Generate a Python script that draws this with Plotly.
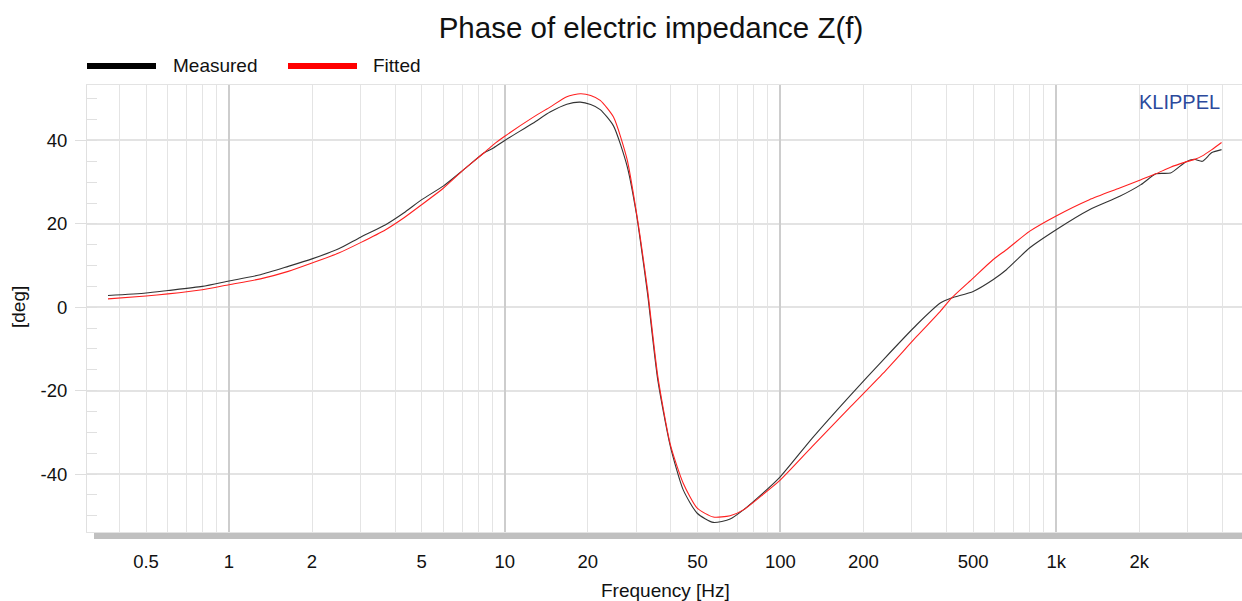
import plotly.graph_objects as go

freq = [0.364, 0.5, 0.6, 0.8, 1.0, 1.3, 1.64, 2.0, 2.5, 3.0, 3.7, 4.3, 5.0, 6.0, 7.1, 8.4, 9.1,
        10, 12.7, 14.6, 16.8, 18.8, 20.5, 22.2, 24.8, 27.8, 30.0, 31.0, 33.0, 35.9, 39.9, 44.4,
        49.9, 57.1, 65.7, 73.4, 85, 100, 130, 180, 236, 312, 380, 417, 500, 590, 660, 800,
        1000, 1320, 1700, 2030, 2300, 2600, 2940, 3160, 3390, 3670, 3980]

measured = [2.8, 3.4, 4.0, 5.0, 6.3, 7.8, 9.8, 11.6, 14.0, 16.8, 19.8, 22.6, 25.8, 29.1, 33.0, 37.0, 38.2,
            40.0, 44.2, 46.8, 48.7, 49.2, 48.6, 47.4, 43.5, 33.8, 22.6, 16.2, 3.0, -17.4, -33.4, -43.8,
            -49.4, -51.6, -50.8, -48.6, -45.0, -40.6, -31.5, -21.0, -12.6, -4.2, 1.0, 2.2, 3.8, 6.6, 9.0, 14.2,
            18.6, 23.4, 26.6, 29.4, 32.0, 32.2, 34.8, 35.5, 35.0, 37.1, 37.8]

fitted = [2.0, 2.7, 3.2, 4.2, 5.4, 6.8, 8.6, 10.6, 13.0, 15.5, 18.6, 21.4, 24.6, 28.6, 33.0, 37.0, 39.0,
          41.0, 45.6, 48.0, 50.5, 51.2, 50.8, 49.6, 45.6, 35.4, 23.0, 16.8, 4.0, -16.5, -33.0, -42.2,
          -48.2, -50.3, -50.0, -48.6, -45.3, -41.4, -33.5, -23.8, -15.8, -7.0, -1.0, 2.2, 7.0, 11.4, 13.8, 18.2,
          21.9, 25.8, 28.6, 30.6, 32.0, 33.6, 34.8, 35.4, 36.3, 37.8, 39.5]

x_tick_vals = [0.5, 1, 2, 5, 10, 20, 50, 100, 200, 500, 1000, 2000]
x_tick_text = ["0.5", "1", "2", "5", "10", "20", "50", "100", "200", "500", "1k", "2k"]
decades = [1, 10, 100, 1000]
minor_grid = [m * d for d in [0.1, 1, 10, 100, 1000] for m in range(1, 10)]
y_tick_vals = [-40, -20, 0, 20, 40]
y_tick_text = ["-40", "-20", "0", "20", "40"]

FONT = "Liberation Sans, Arial, sans-serif"
W, H = 1242, 601
L, R, T, B = 87, 0, 85, 69
pw, ph = W - L - R, H - T - B

def px(xp):
    return (xp - L) / pw

def py(yp):
    return (H - B - yp) / ph

fig = go.Figure()
fig.add_trace(go.Scatter(x=freq, y=measured, mode="lines", name="Measured",
                         line=dict(color="#333333", width=1.1, shape="spline", smoothing=0.6),
                         showlegend=False))
fig.add_trace(go.Scatter(x=freq, y=fitted, mode="lines", name="Fitted",
                         line=dict(color="#ff2020", width=1.1, shape="spline", smoothing=0.6),
                         showlegend=False))
fig.add_trace(go.Scatter(x=[1], y=[None], xaxis="x2", mode="lines", showlegend=False, hoverinfo="skip"))

xr = [-0.515, 3.674]
fig.update_layout(
    width=W, height=H,
    margin=dict(l=L, r=R, t=T, b=B),
    paper_bgcolor="white", plot_bgcolor="white",
    font=dict(family=FONT, color="#111111"),
    title=dict(text="Phase of electric impedance Z(f)", x=651 / W, xanchor="center",
               y=1 - 28 / H, yanchor="middle", yref="container",
               font=dict(size=29.5, family=FONT, color="#111111")),
    xaxis=dict(type="log", range=xr, tickvals=x_tick_vals, ticktext=x_tick_text,
               ticks="", showgrid=False, zeroline=False,
               showline=True, linecolor="#e3e3e3", linewidth=1, mirror=True,
               tickfont=dict(size=18.5, family=FONT, color="#111111"),
               ticklabelstandoff=13,
               minor=dict(tickmode="array", tickvals=minor_grid, showgrid=True,
                          gridcolor="#e4e4e4", gridwidth=1, ticks="")),
    xaxis2=dict(type="log", range=xr, overlaying="x", anchor="y", tickvals=decades,
                showticklabels=False, ticks="", showgrid=True, gridcolor="#cdcdcd",
                gridwidth=2, zeroline=False, showline=False),
    yaxis=dict(range=[-53.9, 53.3], tickvals=y_tick_vals, ticktext=y_tick_text,
               ticks="outside", ticklen=11,
               tickcolor="#dedede", tickwidth=1, showgrid=True, gridcolor="#e3e3e3", gridwidth=1.5,
               zeroline=False, showline=True, linecolor="#e0e0e0", linewidth=1,
               tickfont=dict(size=18.5, family=FONT, color="#111111"),
               ticklabelstandoff=4,
               minor=dict(dtick=5, ticks="inside", ticklen=10, tickcolor="#e0e0e0", showgrid=False)),
    shapes=[
        dict(type="rect", xref="paper", yref="paper", x0=px(94), x1=px(1242), y0=py(539), y1=py(533),
             fillcolor="#c0c0c0", line=dict(width=0), layer="above"),
        dict(type="line", xref="paper", yref="paper", x0=px(87), x1=px(156), y0=py(66), y1=py(66),
             line=dict(color="#000000", width=6)),
        dict(type="line", xref="paper", yref="paper", x0=px(288), x1=px(357), y0=py(66), y1=py(66),
             line=dict(color="#ff0000", width=6)),
    ],
    annotations=[
        dict(text="Measured", xref="paper", yref="paper", x=px(171), y=py(65), xanchor="left",
             yanchor="middle", showarrow=False, font=dict(size=19, family=FONT, color="#111111")),
        dict(text="Fitted", xref="paper", yref="paper", x=px(371), y=py(65), xanchor="left",
             yanchor="middle", showarrow=False, font=dict(size=19, family=FONT, color="#111111")),
        dict(text="KLIPPEL", xref="paper", yref="paper", x=px(1222), y=py(102), xanchor="right",
             yanchor="middle", showarrow=False, font=dict(size=20, family=FONT, color="#2c4a9c")),
        dict(text="Frequency [Hz]", xref="paper", yref="paper", x=px(665), y=py(590), xanchor="center",
             yanchor="middle", showarrow=False, font=dict(size=19, family=FONT, color="#111111")),
        dict(text="[deg]", xref="paper", yref="paper", x=px(18), y=py(307), xanchor="center",
             yanchor="middle", textangle=-90, showarrow=False,
             font=dict(size=19, family=FONT, color="#111111")),
    ],
)

fig.write_html("out.html")
